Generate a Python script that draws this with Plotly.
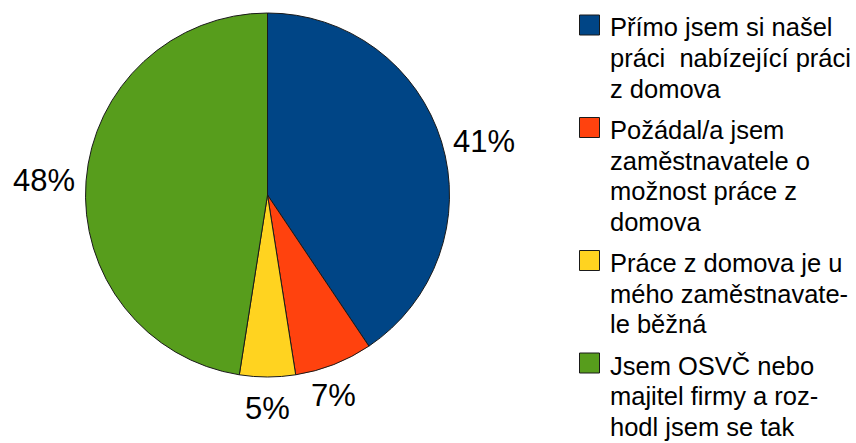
import math
import plotly.graph_objects as go

categories = [
    "Přímo jsem si našel práci  nabízející práci z domova",
    "Požádal/a jsem zaměstnavatele o možnost práce z domova",
    "Práce z domova je u mého zaměstnavatele běžná",
    "Jsem OSVČ nebo majitel firmy a rozhodl jsem se tak",
]
values = [41, 7, 5, 48]
legend_lines = [
    ["Přímo jsem si našel", "práci\u00a0 nabízející práci", "z domova"],
    ["Požádal/a jsem", "zaměstnavatele o", "možnost práce z", "domova"],
    ["Práce z domova je u", "mého zaměstnavate-", "le běžná"],
    ["Jsem OSVČ nebo", "majitel firmy a roz-", "hodl jsem se tak"],
]
colors = ["#004586", "#ff420e", "#ffd320", "#579d1c"]

W, H = 856, 443
FONT = "Liberation Sans, Arial, sans-serif"
PCT_SIZE = 31
LEG_SIZE = 25.5

# pie geometry (pixels)
CX, CY, R = 267.5, 195, 182

fig = go.Figure(go.Pie(
    labels=categories,
    values=values,
    sort=False,
    direction="clockwise",
    rotation=0,
    marker=dict(colors=colors, line=dict(color="#1a1a1a", width=1)),
    textinfo="none",
    hoverinfo="label+percent",
    showlegend=False,
    domain=dict(x=[(CX - R) / W, (CX + R) / W], y=[1 - (CY + R) / H, 1 - (CY - R) / H]),
    automargin=False,
))

annotations = []
shapes = []

# percentage labels placed outside each slice, anchored at its mid angle
total = sum(values)
cum = 0
for v in values:
    frac = v / total
    mid = (cum + frac / 2) * 2 * math.pi
    cum += frac
    txt = f"{round(frac * 100)}%"
    s, c = math.sin(mid), math.cos(mid)
    ex = CX + s * R
    ey = CY - c * R
    if abs(s) >= abs(c):
        pad = 9
        px = ex + (pad if s > 0 else -pad)
        py = ey
        xa = "left" if s > 0 else "right"
        ya = "middle"
    else:
        pad = 12
        px = ex
        py = ey + (pad if c < 0 else -pad)
        xa = "center"
        ya = "top" if c < 0 else "bottom"
    annotations.append(dict(
        x=px / W, y=1 - py / H, xref="paper", yref="paper",
        xanchor=xa, yanchor=ya, showarrow=False,
        text=txt, font=dict(family=FONT, size=PCT_SIZE, color="#000000"),
    ))

# custom legend (wrapped multi-line entries)
line_h = 30.5
gap = 41.5
y = 27.5
for i, lines in enumerate(legend_lines):
    sc = y - 2.5
    shapes.append(dict(
        type="rect", xref="paper", yref="paper",
        x0=579.5 / W, x1=599.5 / W,
        y0=1 - (sc + 10) / H, y1=1 - (sc - 10) / H,
        fillcolor=colors[i], line=dict(color="#1a1a1a", width=1),
    ))
    for j, t in enumerate(lines):
        annotations.append(dict(
            x=608 / W, y=1 - y / H, xref="paper", yref="paper",
            xanchor="left", yanchor="middle", showarrow=False,
            text=t, font=dict(family=FONT, size=LEG_SIZE, color="#000000"),
        ))
        if j < len(lines) - 1:
            y += line_h
    y += gap

fig.update_layout(
    width=W, height=H,
    margin=dict(l=0, r=0, t=0, b=0),
    paper_bgcolor="white", plot_bgcolor="white",
    annotations=annotations, shapes=shapes,
)
fig.write_html(
    "out.html",
    config={"displayModeBar": False},
    post_script="document.body.style.margin='0';document.body.style.overflow='hidden';",
)
